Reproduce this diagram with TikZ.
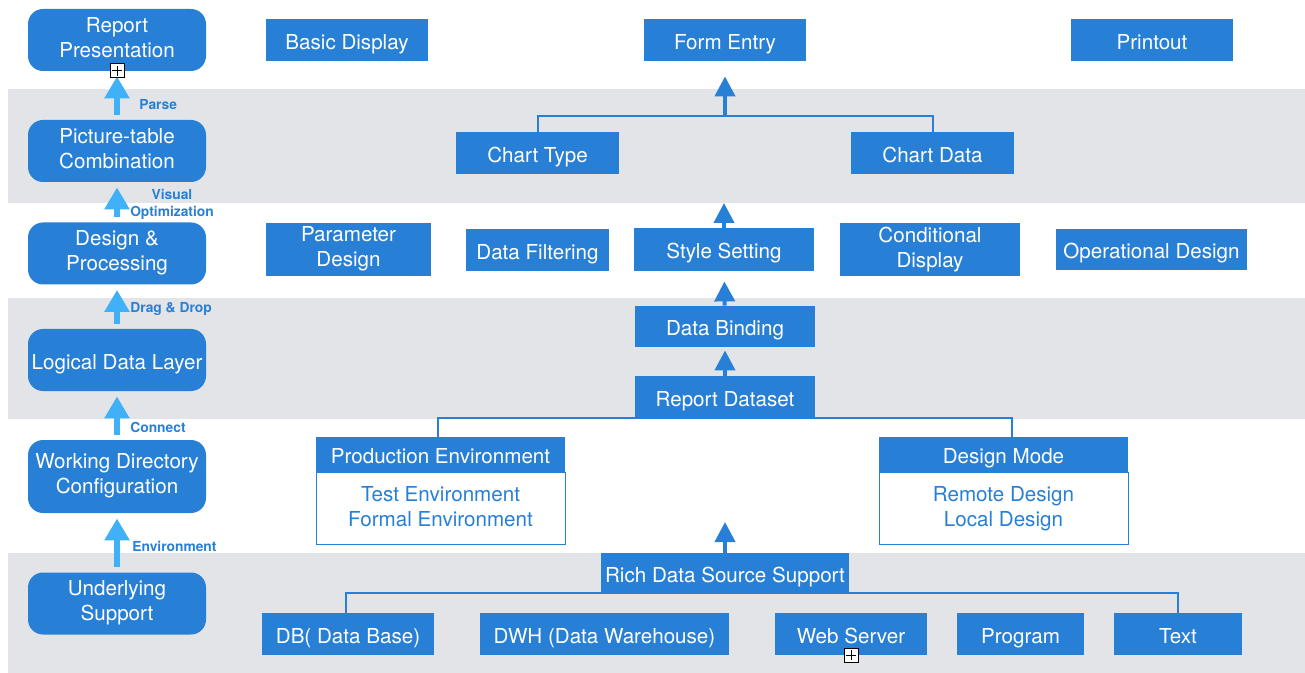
\documentclass[tikz,border=0pt]{standalone}
\usepackage{fontspec}
\setmainfont{TeX Gyre Heros}
\usetikzlibrary{arrows.meta,positioning}
\definecolor{boxblue}{HTML}{287FD6}
\definecolor{flowblue}{HTML}{41B1F7}
\definecolor{bandgray}{HTML}{E3E4E8}
% struts on the first and last line so that all boxes set their text alike
\newcommand{\topstrut}{\rule{0pt}{11.8pt}}
\newcommand{\botstrut}{\rule[-2.6pt]{0pt}{2.6pt}}
\tikzset{
  boxtext/.style={align=center, inner xsep=0pt, inner ysep=0pt, font=\fontsize{10.3}{12.5}\selectfont,
    execute at begin node=\topstrut, execute at end node=\botstrut},
  twoline/.style={execute at begin node=\rule{0pt}{14.3pt}, inner ysep=-1.5pt},
  layer/.style={boxtext, fill=boxblue, rounded corners=7.5pt, text=white, minimum width=89pt, minimum height=31pt},
  item/.style={boxtext, fill=boxblue, text=white, minimum height=21pt},
  sheet/.style={boxtext, twoline, draw=boxblue, fill=white, text=boxblue, line width=0.5pt, minimum width=124.5pt, minimum height=36pt},
  tag/.style={text=boxblue, align=center, inner sep=0pt, font=\fontsize{6.9}{8.5}\selectfont\bfseries},
  flow/.style={draw=flowblue, line width=3pt, shorten <=2.5pt, shorten >=2.5pt, -{Triangle[width=12pt,length=11pt]}},
  lift/.style={draw=boxblue, line width=2pt, -{Triangle[width=10pt,length=10pt]}},
  link/.style={draw=boxblue, line width=1pt},
  plusbox/.style={draw=black, fill=white, line width=0.5pt, minimum size=7pt, inner sep=0pt,
    path picture={\draw[line width=0.5pt] ([yshift=-1.2pt]path picture bounding box.north) -- ([yshift=1.2pt]path picture bounding box.south)
      ([xshift=1.2pt]path picture bounding box.west) -- ([xshift=-1.2pt]path picture bounding box.east);}}
}

\begin{document}
\begin{tikzpicture}[x=0.5pt,y=-0.5pt]
\useasboundingbox (0,0) rectangle (1305,673);
% grey layers
\fill[bandgray] (8,89) rectangle (1305,203);
\fill[bandgray] (8,298) rectangle (1305,419);
\fill[bandgray] (8,553) rectangle (1305,673);

% left column
\node[layer,twoline] (rp) at (117,40) {Report\\Presentation};
\node[layer,twoline] (pc) at (117,151) {Picture-table\\Combination};
\node[layer,twoline] (dp) at (117,253.5) {Design \&\\Processing};
\node[layer] (ld) at (117,360) {Logical Data Layer};
\node[layer,twoline,minimum height=36.5pt] (wd) at (117,476.5) {Working Directory\\Configuration};
\node[layer,twoline] (us) at (117,603.5) {Underlying\\Support};

\draw[flow] (pc) -- (rp);
\draw[flow] (dp) -- (pc);
\draw[flow] (ld) -- (dp);
\draw[flow] (wd) -- (ld);
\draw[flow] (us) -- (wd);
\node[tag,anchor=west] (lparse) at (139,105) {Parse};
\node[tag] (lvisual) at (172,204) {Visual\\Optimization};
\node[tag,anchor=west] (ldrag) at (130,309) {Drag \& Drop};
\node[tag,anchor=west] (lconn) at (130,427) {Connect};
\node[tag,anchor=west] (lenv) at (132,546) {Environment};

% presentation
\node[item,minimum width=81pt] (bd) at (347,40) {Basic Display};
\node[item,minimum width=81pt] (fe) at (725,40) {Form Entry};
\node[item,minimum width=81pt] (po) at (1152,40) {Printout};
\node[item,minimum width=81.5pt] (ct) at (537.5,153) {Chart Type};
\node[item,minimum width=81.5pt] (cd) at (932.5,153) {Chart Data};
\coordinate (fork) at (725,116);
\draw[link] (ct.north) |- (fork) -| (cd.north);
\draw[lift,shorten >=7.5pt] (fork) -- (fe.south);

% design
\node[item,twoline,minimum width=82.5pt,minimum height=26.5pt] (pd) at (348.5,249.5) {Parameter\\Design};
\node[item,minimum width=71.5pt] (df) at (537.5,250) {Data Filtering};
\node[item,minimum width=90pt,minimum height=21.5pt] (ss) at (724,249.5) {Style Setting};
\node[item,twoline,minimum width=90pt,minimum height=26.5pt] (cdis) at (930,249.5) {Conditional\\Display};
\node[item,minimum width=95.5pt,minimum height=20.5pt] (od) at (1151.5,249.5) {Operational Design};
\coordinate (band1) at (724,203);
\draw[lift] (ss) -- (band1);

% data layer
\node[item,minimum width=90pt,minimum height=20.5pt] (dbind) at (725,326.5) {Data Binding};
\node[item,minimum width=90pt] (rd) at (725,397) {Report Dataset};
\draw[lift,shorten >=5pt] (dbind) -- (ss);
\draw[lift,shorten >=1.5pt] (rd) -- (dbind);

% environments
\node[item,minimum width=124.5pt,minimum height=17.5pt] (pe) at (440.5,454.5) {Production Environment};
\node[sheet,below=0pt of pe] (pebody) {Test Environment\\Formal Environment};
\node[item,minimum width=124.5pt,minimum height=17.5pt] (dm) at (1003.5,454.5) {Design Mode};
\node[sheet,below=0pt of dm] (dmbody) {Remote Design\\Local Design};
\draw[link] ([xshift=-1.25pt]pe.north) |- (rd.south) -| ([xshift=4.25pt]dm.north);

% data sources
\node[item,minimum width=124pt,minimum height=20pt] (rs) at (725,573) {Rich Data Source Support};
\coordinate (up) at (725,522);
\draw[lift] (rs) -- (up);
\node[item,minimum width=86pt] (dbase) at (348,634) {DB( Data Base)};
\node[item,minimum width=124.5pt] (dwh) at (604.5,634) {DWH (Data Warehouse)};
\node[item,minimum width=76pt] (ws) at (851,634) {Web Server};
\node[item,minimum width=63.5pt] (pg) at (1020.5,634) {Program};
\node[item,minimum width=64pt] (txt) at (1178,634) {Text};
\draw[link] ([xshift=-1.25pt]dbase.north) |- (rs.south) -| (txt.north);

\node[plusbox] (fold1) at (117,71) {};
\node[plusbox] (fold2) at (851,655) {};
\end{tikzpicture}
\end{document}
